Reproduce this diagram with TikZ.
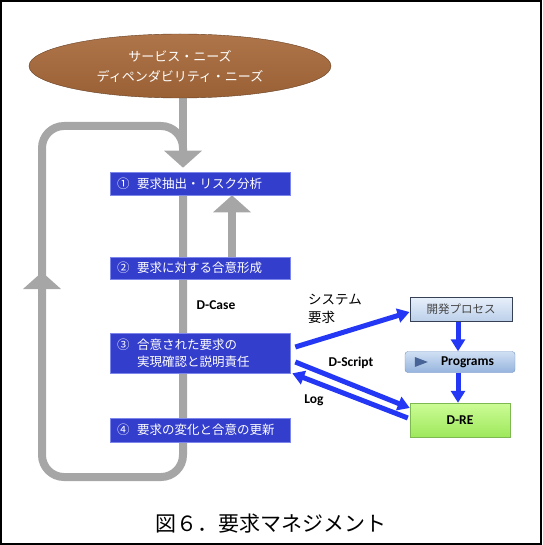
\documentclass[tikz,border=0pt]{standalone}
\usepackage{fontspec}
\setmainfont{Noto Sans CJK JP}
\newfontfamily\latinfont{Carlito}
\usetikzlibrary{arrows.meta,shapes.geometric,backgrounds,positioning}

\definecolor{stepblue}{RGB}{52,62,204}
\definecolor{stepedge}{RGB}{125,135,235}
\definecolor{loopgray}{RGB}{166,166,166}
\definecolor{linkblue}{RGB}{35,55,245}
\definecolor{needsbrown}{RGB}{168,105,58}
\definecolor{devtop}{RGB}{232,240,251}
\definecolor{devbottom}{RGB}{188,208,234}
\definecolor{devedge}{RGB}{55,65,85}
\definecolor{devtext}{RGB}{70,70,70}
\definecolor{progtop}{RGB}{208,224,244}
\definecolor{progbottom}{RGB}{150,180,221}
\definecolor{progedge}{RGB}{115,148,196}
\definecolor{progicon}{RGB}{72,100,150}
\definecolor{dretop}{RGB}{204,252,150}
\definecolor{drebottom}{RGB}{158,232,92}
\definecolor{dreedge}{RGB}{125,185,80}

\begin{document}
\begin{tikzpicture}[
        x=1pt, y=-1pt,
        needs/.style={ellipse, minimum width=302pt, minimum height=64pt, inner sep=0pt,
            top color=needsbrown!92!white, bottom color=needsbrown!92!black, draw=needsbrown!60!black,
            text=white, align=center, font=\fontsize{13}{20}\selectfont},
        stepbox/.style={rectangle, fill=stepblue, draw=stepedge, line width=0.6pt, text=white,
            text width=166pt, inner xsep=7pt, inner ysep=2pt, align=left,
            font=\fontsize{12.5}{17}\selectfont},
        tag/.style={font=\latinfont\bfseries\fontsize{13.5}{16}\selectfont},
        flow/.style={draw=loopgray, line width=8pt},
        flowtip/.style={-{Triangle[width=37pt,length=17pt]}},
        link/.style={draw=linkblue, line width=5pt, -{Triangle[width=14pt,length=12pt]}},
        toolbox/.style={rectangle, minimum width=102pt, minimum height=24pt, inner sep=0pt}
    ]
    \useasboundingbox (0,0) rectangle (542,545);
    \draw[line width=2pt] (1,1) rectangle (541,544);

    \node[needs] (needs) at (180,66) {サービス・ニーズ\\ディペンダビリティ・ニーズ};

    \node[stepbox, minimum height=23pt] (req1) at (200,183.5) {①\hspace{0.6em}要求抽出・リスク分析};
    \node[stepbox, minimum height=22pt] (req2) at (200,268) {②\hspace{0.6em}要求に対する合意形成};
    \node[stepbox, minimum height=40pt] (req3) at (200,353) {③\hspace{0.6em}合意された要求の\\\phantom{③}\hspace{0.6em}実現確認と説明責任};
    \node[stepbox, minimum height=24pt] (req4) at (200,430) {④\hspace{0.6em}要求の変化と合意の更新};

    \node[tag] (dcase) at (216,305) {D-Case};

    \node[align=left, font=\fontsize{13.5}{18}\selectfont] (sysreq) at (335,309) {システム\\要求};
    \node[toolbox, top color=devtop, bottom color=devbottom, draw=devedge, line width=1pt,
        text=devtext, font=\fontsize{11.5}{14}\selectfont] (devproc) at (461,309) {開発プロセス};
    \node[toolbox, minimum width=110pt, minimum height=21pt, rounded corners=3pt,
        top color=progtop, bottom color=progbottom, draw=progedge, tag] (progs) at (460,362) {\hspace{15pt}Programs};
    \node[toolbox, minimum width=100pt, minimum height=34pt,
        top color=dretop, bottom color=drebottom, draw=dreedge, tag] (dre) at (460,420) {D-RE};
    \fill[progicon] ([xshift=10pt,yshift=5pt]progs.west) -- ++(13,5) -- ++(-13,5) -- cycle;

    \node[tag] (dscript) at (351,363) {D-Script};
    \node[tag] (log) at (314,400) {Log};

    \node[font=\fontsize{21}{24}\selectfont] (caption) at (271,524) {図６．要求マネジメント};

    \begin{scope}[on background layer]
    \coordinate (spine) at (183,0);
    \draw[flow, flowtip, shorten >=4pt] (needs.south -| spine) -- (req1.north -| spine);
    \draw[flow, rounded corners=22pt] (req1.south -| spine) -- (183,477) -- (42,477) -- (42,126) -- (183,126) -- (183,160);
    \draw[flow, flowtip] (42,300) -- (42,272);
    \draw[flow, flowtip] ([xshift=32pt]req2.north) -- ([xshift=32pt]req1.south);
    \end{scope}

    \draw[link] ([xshift=5pt,yshift=6pt]req3.east) -- ([yshift=-3pt]devproc.west);
    \draw[link] ([xshift=5pt,yshift=-9pt]req3.east) -- ([yshift=12pt]dre.west);
    \draw[link] ([xshift=-2pt,yshift=2pt]dre.west) -- ([xshift=2pt]req3.south east);
    \draw[link] ([xshift=-3pt]devproc.south) -- ([xshift=-2pt]progs.north);
    \draw[link] ([xshift=-2pt]progs.south) -- ([xshift=-2pt]dre.north);

    \end{tikzpicture}
\end{document}
